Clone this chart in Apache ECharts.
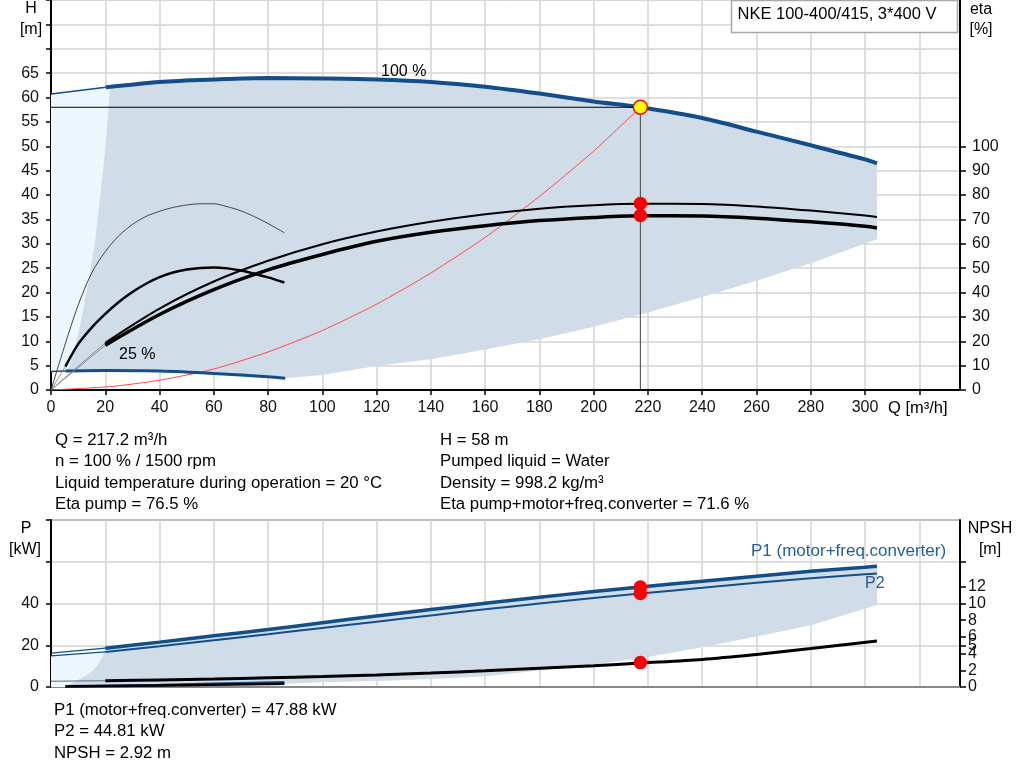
<!DOCTYPE html>
<html><head><meta charset="utf-8">
<script src="https://cdn.jsdelivr.net/npm/echarts@6/dist/echarts.min.js"></script>
<style>html,body{margin:0;padding:0;background:#fff}#c{width:1024px;height:781px}</style>
</head><body><div id="c"></div>
<script>
// ---------- data ----------
const qTicks = [0,20,40,60,80,100,120,140,160,180,200,220,240,260,280,300,320];
const qLabels = [0,20,40,60,80,100,120,140,160,180,200,220,240,260,280,300];
const etaTicks = [0,10,20,30,40,50,60,70,80,90,100];
const npshTicks = [0,2,4,5,6,8,10,12,15];
const npshLabels = [0,2,4,5,6,8,10,12];

const qH100Ext = [0, 20.2];
const h100Ext = [60.7, 62.1];
const qH100 = [20.2, 40, 60, 80, 100, 120, 140, 160, 180, 200, 217.2, 240, 260, 280, 300, 304.4];
const h100  = [62.1, 63.2, 63.7, 64.0, 63.9, 63.7, 63.2, 62.2, 60.8, 59.2, 58.0, 55.8, 53.0, 50.2, 47.3, 46.5];

const qH25Ext = [0, 5.3];
const h25Ext = [3.8, 3.9];
const qH25 = [5.3, 20, 40, 60, 80, 86.3];
const h25  = [3.9, 4.0, 3.9, 3.4, 2.7, 2.4];

const qSys = [0, 22, 40, 60, 80, 100, 120, 140, 160, 180, 200, 217.2];
const hSys = [0, 0.7, 2.0, 4.3, 7.8, 12.2, 17.6, 24.0, 31.3, 39.7, 49.0, 58.0];

const qEta100 = [20, 40, 60, 80, 100, 120, 140, 160, 180, 200, 217.2, 240, 260, 280, 300, 304.4];
const etaPump100  = [19.4, 33.4, 44.5, 53.0, 59.8, 65.0, 69.0, 72.1, 74.4, 75.8, 76.4, 76.3, 75.3, 73.6, 71.6, 71.0];
const etaTotal100 = [18.4, 31.0, 41.2, 49.3, 55.6, 61.0, 64.7, 67.4, 69.5, 70.8, 71.5, 71.4, 70.5, 69.0, 67.2, 66.5];

const qEtaPump25 = [0, 5, 10, 15, 20, 25, 30, 35, 40, 45, 50, 55, 60, 65, 70, 75, 80, 86];
const etaPump25  = [0, 18.0, 34.8, 48.0, 56.8, 63.3, 67.9, 71.2, 73.3, 74.9, 75.9, 76.4, 76.4, 75.2, 73.5, 71.1, 68.3, 64.5];
const qEtaTotal25 = [5.3, 10, 15, 20, 25, 30, 35, 40, 45, 50, 55, 60, 65, 70, 75, 80, 86];
const etaTotal25  = [9.6, 18.8, 25.6, 31.2, 36.1, 40.2, 43.6, 46.3, 48.2, 49.4, 50.1, 50.3, 49.9, 49.0, 47.7, 46.2, 44.1];

const qOrigin = [5.3, 20, 20];
const etaOrigin = [9.6, 19.4, 18.4];

const qOp = 217.2, hOp = 58, etaPumpOp = 76.5, etaTotalOp = 71.6;
const p1Op = 47.88, p2Op = 44.81, npshOp = 2.92;

const lightTopQ = [0, 0, 21.5, 21.5];
const lightTopH = [3.8, 60.7, 62.1, 3.9];
const darkTopQ = [5.3, 6.5, 8.9, 11.4, 13.9, 16.3, 18.2, 19.7, 20.8, 21.8,
  40, 60, 80, 100, 120, 140, 160, 180, 200, 217.2, 240, 260, 280, 300, 304.4,
  304.4, 280, 260, 240, 220, 200, 180, 160, 140, 120, 100, 86.3,
  80, 60, 40, 20];
const darkTopH = [3.9, 4.5, 8.9, 15.0, 22.5, 30.7, 40.0, 48.0, 55.0, 62.2,
  63.2, 63.7, 64.0, 63.9, 63.7, 63.2, 62.2, 60.8, 59.2, 58.0, 55.8, 53.0, 50.2, 47.3, 46.5,
  30.9, 26.0, 22.4, 19.1, 15.9, 13.0, 10.4, 8.3, 6.3, 4.9, 3.1, 2.4,
  2.7, 3.4, 3.9, 4.0];

const qPExt = [0, 20];
const p1Ext = [16.2, 18.6];
const p2Ext = [14.9, 16.8];
const qP = [20, 40, 60, 80, 100, 120, 140, 160, 180, 200, 217.2, 240, 260, 280, 300, 304.4];
const p1 = [18.6, 21.5, 24.5, 27.5, 30.8, 34.0, 37.1, 40.1, 43.0, 45.7, 47.9, 50.7, 53.1, 55.4, 57.4, 57.9];
const p2 = [16.8, 19.5, 22.4, 25.3, 28.3, 31.3, 34.3, 37.2, 40.0, 42.6, 44.8, 47.5, 49.9, 52.1, 54.0, 54.4];
const qP25 = [5.3, 40, 86];
const p1_25 = [0.4, 1.0, 2.3];
const p2_25 = [0.2, 0.7, 1.5];

const qNExt = [0, 20];
const npshExt = [0.69, 0.75];
const qN = [20, 40, 60, 80, 100, 120, 140, 160, 180, 200, 217.2, 240, 260, 280, 304.4];
const npsh = [0.75, 0.85, 0.95, 1.1, 1.25, 1.45, 1.68, 1.95, 2.25, 2.55, 2.87, 3.3, 3.9, 4.6, 5.5];

const lightBotQ = [0, 0, 20, 20];
const lightBotP = [0, 14.9, 16.8, 0];
const darkBotQ = [5.3, 7.2, 9.6, 12, 14.5, 16.3, 17.5, 18.7, 19.4, 20,
  40, 60, 80, 100, 120, 140, 160, 180, 200, 217.2, 240, 260, 280, 300, 304.4,
  304.4, 280, 260, 240, 217.2, 200, 180, 160, 140, 120, 100, 86, 40];
const darkBotP = [0.3, 1.6, 3.2, 4.8, 6.7, 9.0, 11.3, 13.8, 16.2, 18.6,
  21.5, 24.5, 27.5, 30.8, 34.0, 37.1, 40.1, 43.0, 45.7, 47.9, 50.7, 53.1, 55.4, 57.4, 57.9,
  39.3, 29.6, 24.2, 19.0, 13.8, 10.8, 7.9, 5.1, 3.8, 2.9, 2.3, 1.6, 0.7];

// ---------- styles ----------
const FONT = '"Liberation Sans", Arial, sans-serif';
const BLUE = '#124e89';
const DARKFILL = '#d0dce8';
const LIGHTFILL = '#eef6fd';
const GRIDC = '#d4d4d4';

function zip(a, b) { return a.map((v, i) => [v, b[i]]); }
function line(xi, yi, qs, vs, color, width, extra) {
  return Object.assign({
    type: 'line', xAxisIndex: xi, yAxisIndex: yi, data: zip(qs, vs),
    symbol: 'none', smooth: 0.3, silent: true, z: 3,
    lineStyle: { color: color, width: width, cap: 'butt' }
  }, extra || {});
}
function poly(xi, yi, qs, vs, color) {
  return {
    type: 'custom', xAxisIndex: xi, yAxisIndex: yi, silent: true, z: 1,
    data: [[0, 0]],
    renderItem: function (params, api) {
      const pts = qs.map((q, i) => api.coord([q, vs[i]]));
      return { type: 'polygon', shape: { points: pts }, style: { fill: color } };
    }
  };
}
function dots(xi, yi, qs, vs, color, border, size) {
  return {
    type: 'scatter', xAxisIndex: xi, yAxisIndex: yi, data: zip(qs, vs),
    symbol: 'circle', symbolSize: size, silent: true, z: 6,
    itemStyle: { color: color, borderColor: border, borderWidth: 1.5, opacity: 1 }
  };
}
function txt(s, x, y, opt) {
  return { type: 'text', x: x, y: y, silent: true, z: 100,
    style: Object.assign({ text: s, fill: '#000', font: '16px ' + FONT,
      align: 'left', verticalAlign: 'middle', textAlign: 'left', textVerticalAlign: 'middle' }, opt || {}) };
}
const INFO = { font: '16.8px ' + FONT };
const lbl = { fontSize: 16, fontFamily: FONT, color: '#111' };

const chart = echarts.init(document.getElementById('c'), null, { renderer: 'canvas' });
const series = [
  // top chart
  poly(0, 0, lightTopQ, lightTopH, LIGHTFILL),
  poly(0, 0, darkTopQ, darkTopH, DARKFILL),
  line(0, 0, qSys, hSys, '#ff4a4a', 1, { smooth: 0.2 }),
  line(0, 0, qH100Ext, h100Ext, BLUE, 1.5),
  line(0, 0, qH100, h100, BLUE, 4),
  line(0, 0, qH25Ext, h25Ext, BLUE, 1.5),
  line(0, 0, qH25, h25, BLUE, 3),
  line(0, 0, [0, qOp], [hOp, hOp], '#000', 1, { smooth: false, z: 4 }),
  line(0, 0, [qOp, qOp], [hOp, 0], '#444', 1, { smooth: false, z: 4 }),
  line(0, 1, [0, qOrigin[0]], [0, etaOrigin[0]], '#777', 0.8, { smooth: false }),
  line(0, 1, [0, qOrigin[1]], [0, etaOrigin[1]], '#777', 0.8, { smooth: false }),
  line(0, 1, [0, qOrigin[2]], [0, etaOrigin[2]], '#777', 0.8, { smooth: false }),
  line(0, 1, qEtaPump25, etaPump25, '#444', 1),
  line(0, 1, qEtaTotal25, etaTotal25, '#000', 2.5),
  line(0, 1, qEta100, etaPump100, '#000', 2),
  line(0, 1, qEta100, etaTotal100, '#000', 3.5),
  dots(0, 1, [qOp, qOp], [etaPumpOp, etaTotalOp], '#ff0000', '#ff0000', 12),
  dots(0, 0, [qOp], [hOp], '#ffff00', '#ff0000', 14),
  // bottom chart
  poly(1, 2, lightBotQ, lightBotP, LIGHTFILL),
  poly(1, 2, darkBotQ, darkBotP, DARKFILL),
  line(1, 2, qPExt, p1Ext, BLUE, 1.2),
  line(1, 2, qPExt, p2Ext, BLUE, 1.2),
  line(1, 2, qP, p1, BLUE, 3.5),
  line(1, 2, qP, p2, BLUE, 2),
  line(1, 2, qP25, p1_25, BLUE, 2.5),
  line(1, 2, qP25, p2_25, '#000', 2.5),
  line(1, 3, qNExt, npshExt, '#666', 1),
  line(1, 3, qN, npsh, '#000', 3),
  dots(1, 2, [qOp, qOp], [p1Op, p2Op], '#ff0000', '#ff0000', 12),
  dots(1, 3, [qOp], [npshOp], '#ff0000', '#ff0000', 12)
];

const option = {
  animation: false,
  backgroundColor: '#fff',
  grid: [
    { left: 51, top: 0, width: 909, height: 390, show: true, borderColor: '#b0b0b0', borderWidth: 1, outerBoundsMode: 'none' },
    { left: 51, top: 520, width: 909, height: 167, show: true, borderColor: '#000', borderWidth: 1, outerBoundsMode: 'none' }
  ],
  xAxis: [
    { gridIndex: 0, type: 'value', min: 0, max: 335, interval: 20,
      axisLine: { show: true, onZero: false, lineStyle: { color: '#000', width: 2 } },
      axisTick: { show: true, length: 5, customValues: qTicks, lineStyle: { color: '#000', width: 1.5 } },
      axisLabel: Object.assign({ margin: 10, customValues: qLabels, formatter: v => (v <= 300 ? String(v) : '') }, lbl),
      splitLine: { show: true, lineStyle: { color: GRIDC, width: 1.5 } } },
    { gridIndex: 1, type: 'value', min: 0, max: 335, interval: 20,
      axisLine: { show: true, onZero: false, lineStyle: { color: '#888', width: 2 } },
      axisTick: { show: false }, axisLabel: { show: false },
      splitLine: { show: true, lineStyle: { color: GRIDC, width: 1.5 } } }
  ],
  yAxis: [
    { gridIndex: 0, type: 'value', min: 0, max: 80, interval: 5, position: 'left',
      axisLine: { show: true, onZero: false, lineStyle: { color: '#000', width: 2 } },
      axisTick: { show: true, length: 5, lineStyle: { color: '#000', width: 1.5 } },
      axisLabel: Object.assign({ margin: 12, formatter: v => (v <= 65 ? String(v) : '') }, lbl),
      splitLine: { show: true, lineStyle: { color: GRIDC, width: 1.5 } } },
    { gridIndex: 0, type: 'value', min: 0, max: 160, interval: 10, position: 'right',
      axisLine: { show: true, onZero: false, lineStyle: { color: '#000', width: 2 } },
      axisTick: { show: true, length: 6, customValues: etaTicks, lineStyle: { color: '#000', width: 1.5 } },
      axisLabel: Object.assign({ margin: 12, customValues: etaTicks, formatter: v => (v <= 100 ? String(v) : '') }, lbl),
      splitLine: { show: false } },
    { gridIndex: 1, type: 'value', min: 0, max: 80, interval: 20, position: 'left',
      axisLine: { show: true, onZero: false, lineStyle: { color: '#000', width: 2 } },
      axisTick: { show: true, length: 5, lineStyle: { color: '#000', width: 1.5 } },
      axisLabel: Object.assign({ margin: 12, formatter: v => (v <= 40 ? String(v) : '') }, lbl),
      splitLine: { show: true, lineStyle: { color: GRIDC, width: 1.5 } } },
    { gridIndex: 1, type: 'value', min: 0, max: 20, interval: 1, position: 'right',
      axisLine: { show: true, onZero: false, lineStyle: { color: '#000', width: 2 } },
      axisTick: { show: true, length: 6, customValues: npshTicks, lineStyle: { color: '#000', width: 1.5 } },
      axisLabel: Object.assign({ margin: 8, customValues: npshLabels }, lbl),
      splitLine: { show: false } }
  ],
  series: series,
  graphic: [
    { type: 'rect', z: 99, silent: true, shape: { x: 731.5, y: 0.5, width: 226, height: 32 },
      style: { fill: '#fff', stroke: '#a8a8a8', lineWidth: 1.5 } },
    txt('NKE 100-400/415, 3*400 V', 737.5, 14, { font: '16.5px ' + FONT }),
    txt('H', 31, 9, { align: 'center', textAlign: 'center' }),
    txt('[m]', 31, 30, { align: 'center', textAlign: 'center' }),
    txt('eta', 981, 10, { align: 'center', textAlign: 'center' }),
    txt('[%]', 981, 30, { align: 'center', textAlign: 'center' }),
    txt('Q [m³/h]', 888, 408, { font: '16.5px ' + FONT }),
    txt('100 %', 381, 72),
    txt('25 %', 119, 355),
    txt('Q = 217.2 m³/h', 55, 440, INFO),
    txt('n = 100 % / 1500 rpm', 55, 461.5, INFO),
    txt('Liquid temperature during operation = 20 °C', 55, 483, INFO),
    txt('Eta pump = 76.5 %', 55, 504.5, INFO),
    txt('H = 58 m', 440, 440, INFO),
    txt('Pumped liquid = Water', 440, 461.5, INFO),
    txt('Density = 998.2 kg/m³', 440, 483, INFO),
    txt('Eta pump+motor+freq.converter = 71.6 %', 440, 504.5, INFO),
    txt('P', 26, 529, { align: 'center', textAlign: 'center' }),
    txt('[kW]', 25, 550, { align: 'center', textAlign: 'center' }),
    txt('NPSH', 990, 529, { align: 'center', textAlign: 'center' }),
    txt('[m]', 990, 550, { align: 'center', textAlign: 'center' }),
    txt('P1 (motor+freq.converter)', 751, 551.5, { fill: '#1f5f9e', font: '17px ' + FONT }),
    txt('P2', 865, 584, { fill: '#2a5a8a' }),
    txt('P1 (motor+freq.converter) = 47.88 kW', 54, 710, INFO),
    txt('P2 = 44.81 kW', 54, 731.5, INFO),
    txt('NPSH = 2.92 m', 54, 753, INFO)
  ]
};
chart.setOption(option);
</script></body></html>
